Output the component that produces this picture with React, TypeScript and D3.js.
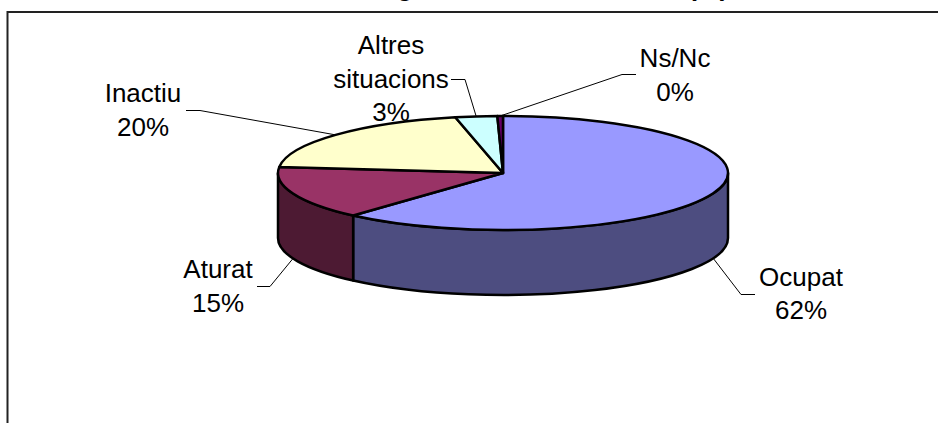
import React from "react";
import * as d3 from "d3";

const width = 938;
const height = 423;

const categories = ["Ocupat", "Aturat", "Inactiu", "Altres situacions", "Ns/Nc"];
const values = [61.6, 15.1, 19.9, 3.0, 0.4];
const percentLabels = ["62%", "15%", "20%", "3%", "0%"];
const topColors = ["#9999ff", "#993366", "#ffffcc", "#ccffff", "#660066"];
const sideColors = ["#4d4d80", "#4d1a33", "#80805f", "#668080", "#330033"];

// label placement: text centre x, first baseline y, elbow of the leader and where it ends
const labelLayout = [
  { lines: ["Ocupat"], x: 801, y: 286, elbow: [741, 294.5], end: [755, 294.5], gap: 32.5 },
  { lines: ["Aturat"], x: 218, y: 278, elbow: [270, 286.5], end: [257, 286.5], gap: 33.5 },
  { lines: ["Inactiu"], x: 143, y: 102, elbow: [200, 110.5], end: [186, 110.5], gap: 33.5 },
  { lines: ["Altres", "situacions"], x: 391, y: 54, elbow: [465, 79.5], end: [451, 79.5], gap: 33.5 },
  { lines: ["Ns/Nc"], x: 675, y: 67, elbow: [622, 74.5], end: [636, 74.5], gap: 33.5 },
];

const cx = 503;
const cy = 173;
const rx = 225;
const ry = 57;
const depth = 65;

const pie = d3.pie<number>().sort(null)(values);
const arcGen = d3.arc<d3.PieArcDatum<number>>().innerRadius(0).outerRadius(rx);

// angle measured clockwise from 12 o'clock, same as d3.pie
const px = (a: number) => cx + rx * Math.sin(a);
const py = (a: number) => cy - ry * Math.cos(a);

const sidePath = (a0: number, a1: number) => {
  const from = Math.max(a0, Math.PI / 2);
  const to = Math.min(a1, (3 * Math.PI) / 2);
  if (from >= to) return null;
  return (
    `M${px(from)},${py(from)}` +
    `A${rx},${ry} 0 0 1 ${px(to)},${py(to)}` +
    `L${px(to)},${py(to) + depth}` +
    `A${rx},${ry} 0 0 0 ${px(from)},${py(from) + depth}Z`
  );
};

const leader = d3.line();
const FONT = "'Liberation Sans', Arial, sans-serif";

export default function App() {
  return (
    <svg
      width={width}
      height={height}
      style={{ position: "absolute", left: 0, top: 0, background: "#fff" }}
      fontFamily={FONT}
    >
      {/* title is cut off by the top of the picture, only descenders remain */}
      <text x={397} y={-4} fontSize={26} fontWeight="bold">g</text>
      <text x={688} y={-4} fontSize={26} fontWeight="bold">(%)</text>

      <path d={`M938,12H7.5V423`} fill="none" stroke="#222" strokeWidth={2} />

      {pie.map((d, i) => {
        const p = sidePath(d.startAngle, d.endAngle);
        return p ? (
          <path key={i} d={p} fill={sideColors[i]} stroke="#000" strokeWidth={2.5} strokeLinejoin="round" />
        ) : null;
      })}

      <g transform={`translate(${cx},${cy}) scale(1,${ry / rx})`}>
        {pie.map((d, i) => (
          <path
            key={i}
            d={arcGen(d) as string}
            fill={topColors[i]}
            stroke="#000"
            strokeWidth={2.5}
            strokeLinejoin="round"
            style={{ vectorEffect: "non-scaling-stroke" }}
          />
        ))}
      </g>

      {pie.map((d, i) => {
        const mid = (d.startAngle + d.endAngle) / 2;
        const front = mid > Math.PI / 2 && mid < (3 * Math.PI) / 2;
        const anchor: [number, number] = [px(mid), py(mid) + (front ? depth : 0)];
        const lay = labelLayout[i];
        const pts = [anchor, lay.elbow, lay.end] as [number, number][];
        return (
          <g key={categories[i]}>
            <path d={leader(pts) as string} fill="none" stroke="#000" strokeWidth={1} />
            <text x={lay.x} y={lay.y} fontSize={26} textAnchor="middle" fill="#000">
              {lay.lines.concat(percentLabels[i]).map((t, j) => (
                <tspan key={j} x={lay.x} y={lay.y + j * lay.gap}>
                  {t}
                </tspan>
              ))}
            </text>
          </g>
        );
      })}
    </svg>
  );
}
